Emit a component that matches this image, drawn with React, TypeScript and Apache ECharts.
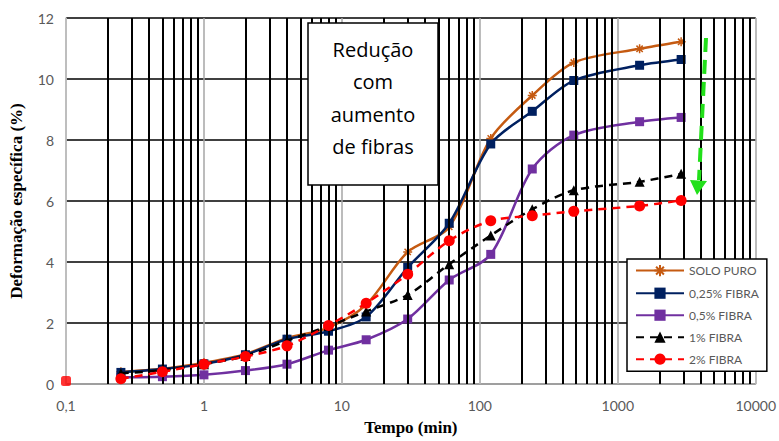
import React, { useEffect, useRef } from "react";
import * as echarts from "echarts";

const times = [0.25, 0.5, 1, 2, 4, 8, 15, 30, 60, 120, 240, 480, 1440, 2880];
const soloPuro = [0.4, 0.5, 0.7, 0.98, 1.5, 1.85, 2.6, 4.33, 5.15, 8.05, 9.46, 10.54, 10.99, 11.22];
const fibra025 = [0.38, 0.49, 0.66, 0.96, 1.47, 1.73, 2.2, 3.82, 5.27, 7.87, 8.94, 9.95, 10.45, 10.64];
const fibra05 = [0.22, 0.24, 0.3, 0.44, 0.65, 1.11, 1.45, 2.13, 3.41, 4.25, 7.05, 8.16, 8.6, 8.74];
const fibra1 = [0.35, 0.45, 0.65, 0.92, 1.42, 1.9, 2.38, 2.92, 3.93, 4.87, 5.73, 6.35, 6.63, 6.89];
const fibra2 = [0.17, 0.4, 0.65, 0.9, 1.25, 1.92, 2.65, 3.6, 4.7, 5.35, 5.52, 5.66, 5.84, 6.02];
const fibra2Start = [0.1, 0.1];

const seriesNames = ["SOLO PURO", "0,25% FIBRA", "0,5% FIBRA", "1% FIBRA", "2% FIBRA"];
const yTicks = [0, 2, 4, 6, 8, 10, 12];
const minorGrid = [
  0.2, 0.3, 0.4, 0.5, 0.6, 0.7, 0.8, 0.9,
  2, 3, 4, 5, 6, 7, 8, 9,
  20, 30, 40, 50, 60, 70, 80, 90,
  200, 300, 400, 500, 600, 700, 800, 900,
  2000, 3000, 4000, 5000, 6000, 7000, 8000, 9000,
];
const boxLines = ["Redução", "com", "aumento", "de fibras"];

const pair = (vals: number[]) => times.map((t, i) => [t, vals[i]]);

const asterisk = "path://M0 5L10 5M5 0L5 10M1.5 1.5L8.5 8.5M8.5 1.5L1.5 8.5";

export default function App() {
  const ref = useRef<HTMLDivElement>(null);
  useEffect(() => {
    if (!ref.current) return;
    const chart = echarts.init(ref.current, null, { renderer: "svg" });
    const grey = "#595959";
    const mk = (
      name: string,
      vals: number[],
      color: string,
      symbol: string,
      size: number,
      dashed: boolean,
      z: number
    ) => ({
      name,
      type: "line",
      data: pair(vals),
      smooth: 0.3,
      symbol,
      symbolSize: size,
      showSymbol: true,
      z,
      lineStyle: { color, width: 2.5, type: dashed ? [8, 6] : "solid" },
      itemStyle: { color, borderColor: color, borderWidth: symbol === asterisk ? 1.5 : 0 },
    });
    chart.setOption({
      animation: false,
      backgroundColor: "#ffffff",
      grid: { left: 66, right: 20, top: 18, bottom: 52 },
      xAxis: {
        type: "log",
        logBase: 10,
        min: 0.1,
        max: 10000,
        splitNumber: 5,
        name: "Tempo (min)",
        nameLocation: "middle",
        nameGap: 35,
        nameTextStyle: { fontFamily: "Liberation Serif", fontWeight: "bold", fontSize: 17, color: "#000" },
        axisLine: { show: true, lineStyle: { color: "#bfbfbf", width: 1.5 } },
        axisTick: { show: false },
        axisLabel: {
          color: grey,
          fontFamily: "Lato",
          fontSize: 14,
          margin: 14,
          formatter: (v: number) => String(Number(v.toPrecision(6))).replace(".", ","),
        },
        splitLine: { show: true, lineStyle: { color: "#a6a6a6", width: 1.5 } },
      },
      yAxis: {
        type: "value",
        min: 0,
        max: 12,
        interval: 2,
        name: "Deformação específica (%)",
        nameLocation: "middle",
        nameGap: 41,
        nameTextStyle: { fontFamily: "Liberation Serif", fontWeight: "bold", fontSize: 17, color: "#000" },
        axisLine: { show: true, lineStyle: { color: "#bfbfbf", width: 1.5 } },
        axisTick: { show: false },
        axisLabel: {
          color: grey,
          fontFamily: "Lato",
          fontSize: 14,
          margin: 12,
          formatter: (v: number) => (yTicks.includes(v) ? String(v) : ""),
        },
        splitLine: { show: true, lineStyle: { color: "#000", width: 1.5 } },
      },
      legend: {
        data: seriesNames,
        orient: "vertical",
        left: 627,
        top: 259,
        width: 132,
        height: 119,
        padding: [5, 8, 6, 8],
        itemGap: 10,
        itemWidth: 48,
        itemHeight: 14,
        backgroundColor: "#ffffff",
        borderColor: "#000",
        borderWidth: 1.5,
        textStyle: { color: grey, fontFamily: "Lato", fontSize: 12 },
        z: 10,
      },
      series: [
        {
          type: "line",
          data: [],
          z: 1,
          silent: true,
          markLine: {
            silent: true,
            symbol: "none",
            label: { show: false },
            lineStyle: { color: "#000", width: 2, type: "solid" },
            data: minorGrid.map((v) => ({ xAxis: v })),
          },
        },
        mk(seriesNames[0], soloPuro, "#c55a11", asterisk, 9, false, 3),
        mk(seriesNames[1], fibra025, "#002060", "rect", 9, false, 4),
        mk(seriesNames[2], fibra05, "#7030a0", "rect", 9, false, 3),
        mk(seriesNames[3], fibra1, "#000000", "triangle", 10, true, 5),
        mk(seriesNames[4], fibra2, "#ff0000", "circle", 11, true, 6),
        {
          type: "scatter",
          data: [fibra2Start],
          symbol: "roundRect",
          symbolSize: 10,
          z: 6,
          itemStyle: { color: "#ff0000" },
        },
      ],
      graphic: [
        {
          type: "rect",
          shape: { x: 308, y: 23, width: 130, height: 162 },
          style: { fill: "#fff", stroke: "#000", lineWidth: 1.5 },
          z: 20,
        },
        ...boxLines.map((t, i) => ({
          type: "text",
          x: 373,
          y: 49 + i * 32.5,
          style: {
            text: t,
            fill: "#000",
            font: "20px 'Open Sans'",
            textAlign: "center",
            textVerticalAlign: "middle",
          },
          z: 21,
        })),
        {
          type: "line",
          shape: { x1: 706, y1: 38, x2: 699, y2: 180 },
          style: { stroke: "#22e01a", lineWidth: 4, lineDash: [14, 8] },
          z: 20,
        },
        {
          type: "polygon",
          shape: { points: [[690, 180], [707, 181], [697, 195]] },
          style: { fill: "#22e01a" },
          z: 20,
        },
      ],
    });
    return () => chart.dispose();
  }, []);
  return <div ref={ref} style={{ position: "fixed", left: 0, top: 0, width: 779, height: 441 }} />;
}
